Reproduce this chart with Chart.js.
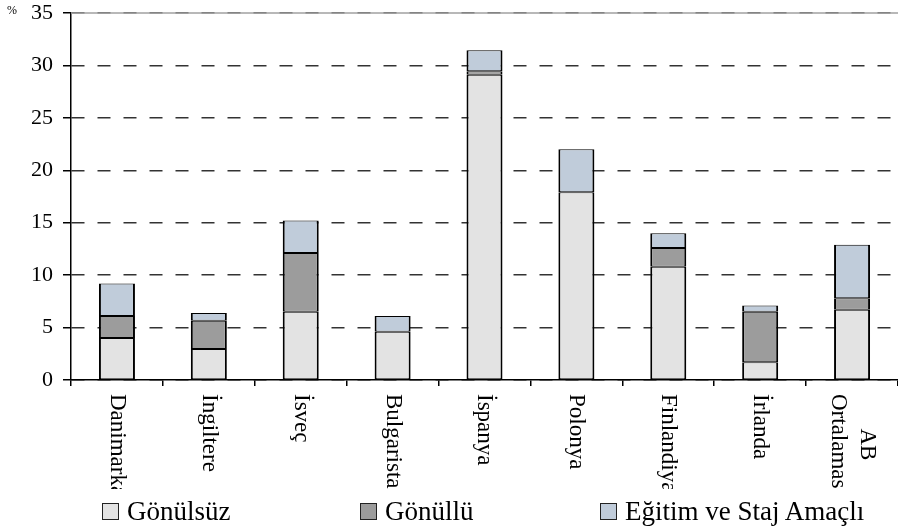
<!DOCTYPE html>
<html><head><meta charset="utf-8">
<script src="https://cdn.jsdelivr.net/npm/chart.js@4/dist/chart.umd.min.js"></script>
<style>
html,body{margin:0;padding:0;background:#fff;}
#wrap{position:relative;width:898px;height:530px;font-family:"Liberation Serif","Times New Roman",serif;color:#000;}
canvas{position:absolute;left:0;top:0;}
#pct{position:absolute;left:7px;top:3px;font-size:12px;line-height:14px;}
.leg{position:absolute;top:496px;height:30px;line-height:30px;display:flex;align-items:center;font-size:27px;white-space:nowrap;}
.leg .box{display:inline-block;width:15px;height:15px;border:1px solid #222;margin-right:8px;}
</style></head>
<body><div id="wrap"><canvas id="c" width="898" height="530"></canvas><div id="pct">%</div><div id="legend"></div></div>
<script>
const categories = ['Danimarka','İngiltere','İsveç','Bulgaristan','İspanya','Polonya','Finlandiya','İrlanda',['AB','Ortalaması']];
const seriesNames = ['Gönülsüz','Gönüllü','Eğitim ve Staj Amaçlı'];
const gonulsuz = [4.0, 2.95, 6.5, 4.6, 29.1, 17.9, 10.8, 1.7, 6.7];
const gonullu  = [2.1, 2.7, 5.6, 0, 0.35, 0, 1.8, 4.8, 1.1];
const egitim   = [3.1, 0.75, 3.1, 1.5, 2.0, 4.1, 1.4, 0.6, 5.1];
const yTicks = [0,5,10,15,20,25,30,35];

const colors = ['#e3e3e3','#9c9c9c','#c0ccda'];
const legendX = [102, 360, 600];
const FAMILY = '"Liberation Serif", "Times New Roman", serif';

const xLabelPlugin = {
  id:'xlabels',
  beforeDatasetsDraw(chart){
    const ctx = chart.ctx, a = chart.chartArea;
    ctx.save();
    ctx.strokeStyle = '#a0a0a0'; ctx.lineWidth = 1.5;
    ctx.beginPath(); ctx.moveTo(a.left, a.top); ctx.lineTo(a.right, a.top); ctx.stroke();
    ctx.restore();
  },
  afterDraw(chart){
    const ctx = chart.ctx, xs = chart.scales.x;
    ctx.save();
    ctx.beginPath(); ctx.rect(0, xs.top+8, chart.width, 489-(xs.top+8)); ctx.clip();
    ctx.font = '23px ' + FAMILY;
    ctx.fillStyle = '#000';
    ctx.textBaseline = 'middle';
    ctx.textAlign = 'left';
    chart.data.labels.forEach((lab,i)=>{
      const lines = Array.isArray(lab)?lab:[lab];
      const x = xs.getPixelForTick(i);
      const widths = lines.map(l=>ctx.measureText(l).width);
      const maxW = Math.max(...widths);
      const lh = 29;
      ctx.save();
      ctx.translate(x, xs.top+14);
      ctx.rotate(Math.PI/2);
      lines.forEach((l,j)=>{
        const off = (j-(lines.length-1)/2)*lh;
        ctx.fillText(l, (maxW-widths[j])/2, off);
      });
      ctx.restore();
    });
    ctx.restore();
  }
};

const datasets = [gonulsuz, gonullu, egitim].map((d,i)=>({
  label: seriesNames[i], data: d, backgroundColor: colors[i],
  borderColor:'#000', borderWidth:{top:1, bottom:1, left:2, right:2}, borderSkipped:false,
  xAxisID:'x', yAxisID:'y',
  categoryPercentage:1, barPercentage:0.392
}));

new Chart(document.getElementById('c'), {
  type:'bar',
  data:{labels:categories, datasets},
  plugins:[xLabelPlugin],
  options:{
    responsive:false, animation:false,
    layout:{padding:{top:13,right:0,left:0,bottom:0}},
    plugins:{legend:{display:false},tooltip:{enabled:false}},
    scales:{
      x:{stacked:true, offset:true,
        grid:{offset:true, drawOnChartArea:false, drawTicks:true, tickLength:6, color:'#000', lineWidth:1.5},
        border:{color:'#000',width:1.5}, ticks:{display:false},
        afterFit(s){s.height=150;}},
      y:{stacked:true, min:0, max:35,
        afterBuildTicks(s){ s.ticks = yTicks.map(v=>({value:v})); },
        ticks:{font:{family:FAMILY,size:22,lineHeight:0.2}, color:'#000', padding:10},
        grid:{color:'#333', lineWidth:1.5, tickLength:8, tickColor:'#000', tickBorderDash:[], drawTicks:true},
        border:{color:'#000', width:1.5, dash:[13,13]},
        afterFit(s){s.width=71;}}
    }
  }
});

const leg = document.getElementById('legend');
seriesNames.forEach((n,i)=>{
  const d = document.createElement('div');
  d.className='leg'; d.style.left = legendX[i]+'px';
  const b = document.createElement('span'); b.className='box'; b.style.background = colors[i];
  d.appendChild(b); d.appendChild(document.createTextNode(n));
  leg.appendChild(d);
});
</script>
</body></html>
